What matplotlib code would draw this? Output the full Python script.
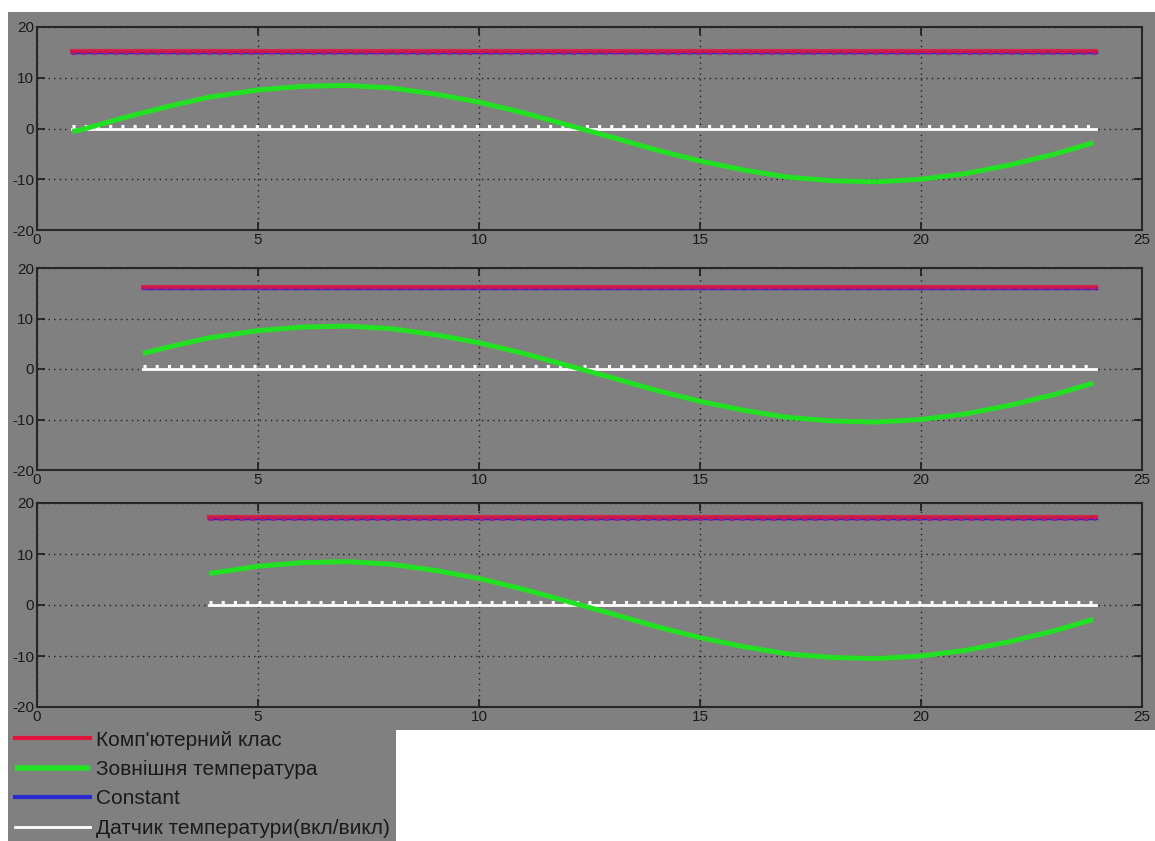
import matplotlib
matplotlib.use("Agg")
import matplotlib.pyplot as plt
from matplotlib.patches import Rectangle

# ---------------- data ----------------
hours = [0.8, 1, 2, 2.4, 3, 3.9, 4, 5, 6, 7, 8, 9, 10, 11, 12, 13, 14, 15,
         16, 17, 18, 19, 20, 21, 22, 23, 23.9]
outside_temp = [-0.6, -0.25, 2.2, 3.1, 4.4, 6.2, 6.3, 7.6, 8.3, 8.5, 8.0, 6.8,
                5.2, 3.1, 0.7, -1.7, -4.2, -6.4, -8.2, -9.6, -10.3, -10.5,
                -10.0, -8.9, -7.2, -5.1, -2.8]
panel_start = [0.8, 2.4, 3.9]
end_time = 23.95
room_temp = [15.2, 16.2, 17.2]      # computer class (oscillating about setpoint)
setpoint = [15.0, 16.0, 17.0]        # Constant
sensor_level = [0.0, 0.0, 0.0]       # sensor on/off baseline
sensor_pulse = [0.5, 0.5, 0.5]       # pulse height

x_ticks = [0, 5, 10, 15, 20, 25]
y_ticks = [-20, -10, 0, 10, 20]
labels = ["Комп'ютерний клас", "Зовнішня температура", "Constant",
          "Датчик температури(вкл/викл)"]

# ---------------- style ----------------
GRAY = "#808080"
RED = "#e0143c"
GREEN = "#22e022"
BLUE = "#2a2ad0"
TXT = "#1a1a1a"
plt.rcParams['font.family'] = ['Liberation Sans', 'DejaVu Sans']
plt.rcParams['axes.unicode_minus'] = False

W, H = 1155, 841
fig = plt.figure(figsize=(W / 100, H / 100), dpi=100)
fig.patch.set_facecolor("white")
fig.patches.append(Rectangle((8 / W, 1 - 730 / H), 1 - 8 / W, (730 - 12) / H,
                             transform=fig.transFigure, facecolor=GRAY,
                             edgecolor="none", zorder=-10))
fig.patches.append(Rectangle((8 / W, 0), (396 - 8) / W, 1 - 730 / H + 0.001,
                             transform=fig.transFigure, facecolor=GRAY,
                             edgecolor="none", zorder=-10))

boxes = [(27, 230), (268, 470), (503, 707)]
left_px, right_px = 37, 1142
handles = None
for i, (top, bot) in enumerate(boxes):
    ax = fig.add_axes([left_px / W, 1 - bot / H, (right_px - left_px) / W, (bot - top) / H])
    ax.set_facecolor(GRAY)
    t0 = panel_start[i]
    xs = [t for t in hours if t >= t0 - 1e-9]
    ys = [v for t, v in zip(hours, outside_temp) if t >= t0 - 1e-9]
    hw, = ax.plot([t0, end_time], [sensor_level[i], sensor_level[i]], color="white", lw=2, zorder=3)
    ax.plot([t0, end_time], [sensor_pulse[i], sensor_pulse[i]], color="white", lw=2.2,
            linestyle=(0, (1, 3)), zorder=3)
    hb, = ax.plot([t0, end_time], [setpoint[i], setpoint[i]], color=BLUE, lw=2.5, zorder=4)
    hr, = ax.plot([t0, end_time], [room_temp[i], room_temp[i]], color=RED, lw=3, zorder=5, alpha=0.85)
    ax.plot([t0, end_time], [setpoint[i] - 0.25, setpoint[i] - 0.25], color="#a0208a", lw=1.5,
            linestyle=(0, (2, 3)), zorder=6)
    hg, = ax.plot(xs, ys, color=GREEN, lw=3.6, zorder=4, solid_capstyle="butt")
    if handles is None:
        handles = [hr, hg, hb, hw]
    ax.set_xlim(0, 25)
    ax.set_ylim(-20, 20)
    ax.set_xticks(x_ticks)
    ax.set_yticks(y_ticks)
    ax.grid(True, color="#202020", linestyle=(0, (1, 3)), lw=1)
    ax.tick_params(direction="in", top=True, right=True, length=6, width=1.2,
                   labelsize=11, colors=TXT, pad=2)
    for s in ax.spines.values():
        s.set_color("#262626")
        s.set_linewidth(1.5)
    ax.set_axisbelow(True)

# legend area
lax = fig.add_axes([8 / W, 0, (396 - 8) / W, 1 - 730 / H])
lax.set_axis_off()
leg = lax.legend(handles, labels, loc="upper left", bbox_to_anchor=(-0.003, 1.07),
                 frameon=False, fontsize=15, handlelength=3.6, handletextpad=0.3,
                 labelspacing=0.5, borderaxespad=0)
for t in leg.get_texts():
    t.set_color(TXT)
for lh, lw in zip(leg.get_lines(), [3, 4, 3, 2]):
    lh.set_linewidth(lw)
    lh.set_alpha(1)

fig.savefig("out.png", dpi=100, facecolor=fig.get_facecolor())
